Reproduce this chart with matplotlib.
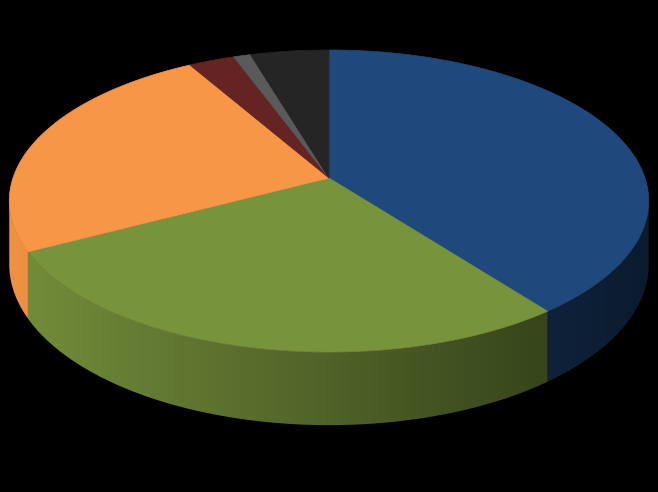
import numpy as np
import matplotlib
matplotlib.use("Agg")
import matplotlib.pyplot as plt
from matplotlib.patches import Polygon
from matplotlib.colors import to_rgb

# Data (slice shares, clockwise from 12 o'clock)
categories = ["A", "B", "C", "D", "E", "F"]
values = [39.6, 27.7, 24.4, 2.7, 1.0, 4.6]
colors = ["#1F497D", "#77933C", "#F79646", "#632423", "#5A5A5A", "#252525"]

# Geometry of the 3D pie (pixel space)
cx, cy = 329.0, 178.0
A, B, k, h0 = 316.0, 147.5, 0.1523, 62.0


def proj(theta_deg, z=0.0):
    t = np.radians(theta_deg)
    X, Y = np.cos(t), np.sin(t)
    d = 1 + k * Y
    return cx + A * X / d, cy - B * Y / d + h0 * z / d


fig = plt.figure(figsize=(6.58, 4.92), dpi=100, facecolor="black")
ax = fig.add_axes([0, 0, 1, 1])
ax.set_facecolor("black")
ax.set_xlim(0, 658)
ax.set_ylim(492, 0)
ax.axis("off")

total = sum(values)
starts, ends = [], []
a = 90.0
for v in values:
    starts.append(a)
    a -= 360.0 * v / total
    ends.append(a)

# visible side range: between the left and right silhouette tangents
t_ext = np.degrees(np.arcsin(k))
vis_lo, vis_hi = -180.0 + t_ext, -t_ext

# Sides (front visible part) with horizontal shading gradient
xl, xr = 9.0, 649.0
xs = np.linspace(0, 658, 660)
shade = np.clip(0.97 - 0.6 * (xs - xl) / (xr - xl), 0, 1)
for s, e, c in zip(starts, ends, colors):
    lo, hi = max(e, vis_lo), min(s, vis_hi)
    if lo >= hi:
        continue
    base = np.array(to_rgb(c))
    th = np.linspace(lo, hi, max(3, int((hi - lo) * 3)))
    top = [proj(t) for t in th]
    bot = [proj(t, 1) for t in th[::-1]]
    poly = Polygon(top + bot, closed=True, facecolor="none", edgecolor="none")
    ax.add_patch(poly)
    img = np.clip(shade[None, :, None] * base[None, None, :], 0, 1)
    im = ax.imshow(img, extent=(0, 658, 492, 0), aspect="auto",
                   interpolation="bilinear", zorder=1)
    im.set_clip_path(poly)
    ax.set_xlim(0, 658)
    ax.set_ylim(492, 0)

# Top faces
for s, e, c in zip(starts, ends, colors):
    th = np.linspace(s, e, max(3, int(abs(s - e) * 2)))
    pts = [(cx, cy)] + [proj(t) for t in th]
    ax.add_patch(Polygon(pts, closed=True, facecolor=c, edgecolor=c,
                         linewidth=0.5, zorder=2))

fig.savefig("out.png", dpi=100, facecolor="black")
